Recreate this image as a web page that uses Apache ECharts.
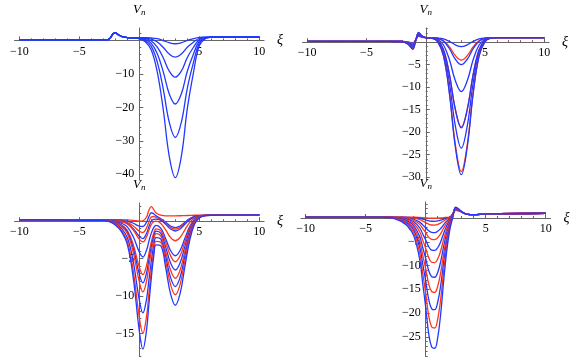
<!DOCTYPE html>
<html>
<head>
<meta charset="utf-8">
<script src="https://cdn.jsdelivr.net/npm/echarts@6/dist/echarts.min.js"></script>
<style>
html, body { margin: 0; padding: 0; background: #fff; }
#main { width: 581px; height: 357px; }
</style>
</head>
<body>
<div id="main"></div>
<script>
// panel A (top left)
var xiA = [-10, -3, -2.6, -2.4, -2.2, -2, -1.8, -1.5, -1, -0.5, 0, 0.5, 1, 1.5, 2, 2.5, 3, 3.5, 4, 4.5, 5, 5.5, 6, 6.5, 7, 10];
var colorsA = ['b', 'b', 'b', 'b', 'b', 'b'];
var vA = [
    [0.2, 0.2, 0.25, 0.8, 1.9, 2.3, 1.8, 1.2, 0.85, 0.80, 0.78, 0.79, 0.72, 0.50, -0.04, -0.70, -1.0, -0.70, -0.02, 0.48, 0.88, 0.98, 1.0, 1.0, 1.0, 1.0],
    [0.2, 0.2, 0.25, 0.8, 1.9, 2.3, 1.8, 1.2, 0.85, 0.79, 0.75, 0.67, 0.36, -0.50, -2.12, -4.10, -5.0, -4.10, -2.06, -0.56, 0.64, 0.93, 0.99, 1.0, 1.0, 1.0],
    [0.2, 0.2, 0.25, 0.8, 1.9, 2.3, 1.8, 1.2, 0.85, 0.78, 0.70, 0.49, -0.18, -2.0, -5.24, -9.2, -11.0, -9.2, -5.12, -2.12, 0.28, 0.86, 0.98, 1.0, 1.0, 1.0],
    [0.2, 0.2, 0.25, 0.8, 1.9, 2.3, 1.8, 1.2, 0.85, 0.76, 0.64, 0.25, -0.9, -4.0, -9.4, -16.0, -19.0, -16.0, -9.2, -4.2, -0.2, 0.76, 0.96, 1.0, 1.0, 1.0],
    [0.2, 0.2, 0.25, 0.8, 1.9, 2.3, 1.8, 1.2, 0.85, 0.74, 0.56, -0.05, -1.8, -6.5, -14.6, -24.5, -29.0, -24.5, -14.3, -6.8, -0.8, 0.64, 0.94, 1.0, 1.0, 1.0],
    [0.2, 0.2, 0.25, 0.8, 1.9, 2.3, 1.8, 1.2, 0.85, 0.72, 0.46, -0.41, -2.88, -9.5, -20.8, -34.7, -41.0, -34.7, -20.4, -9.9, -1.52, 0.5, 0.92, 1.0, 1.0, 1.0]
];
var yTicksA = [-40, -30, -20, -10];
var yMinorA = [-38, -36, -34, -32, -28, -26, -24, -22, -18, -16, -14, -12, -8, -6, -4, -2, 2];

// panel B (top right)
var xiB = [-10, -3, -2, -1.5, -1.1, -0.85, -0.6, -0.35, 0, 0.5, 1, 1.5, 2, 2.5, 3, 3.5, 4, 4.5, 5, 5.5, 6, 7, 10];
var colorsB = ['b', 'r', 'b', 'b', 'r', 'b', 'b', 'r', 'b'];
var vB = [
    [0.2, 0.2, 0.15, 0.06, -0.2, 0.55, 1.3, 1.12, 1.0, 0.99, 0.94, 0.73, 0.18, -0.6, -1.0, -0.6, 0.18, 0.73, 0.94, 0.99, 1.0, 1.0, 1.0],
    [0.2, 0.2, 0.15, -0.01, -0.41, 0.51, 1.44, 1.17, 1.0, 0.98, 0.86, 0.33, -1.05, -3.0, -4.0, -3.0, -1.05, 0.33, 0.86, 0.98, 1.0, 1.0, 1.0],
    [0.2, 0.2, 0.15, -0.09, -0.62, 0.48, 1.57, 1.23, 1.0, 0.98, 0.83, 0.19, -1.46, -3.8, -5.0, -3.8, -1.46, 0.19, 0.83, 0.98, 1.0, 1.0, 1.0],
    [0.2, 0.2, 0.15, -0.16, -0.83, 0.44, 1.71, 1.28, 1.0, 0.95, 0.66, -0.62, -3.92, -8.6, -11.0, -8.6, -3.92, -0.62, 0.66, 0.95, 1.0, 1.0, 1.0],
    [0.2, 0.2, 0.15, -0.23, -1.04, 0.4, 1.84, 1.34, 1.0, 0.92, 0.43, -1.69, -7.16, -14.92, -18.9, -14.92, -7.16, -1.69, 0.43, 0.92, 1.0, 1.0, 1.0],
    [0.2, 0.2, 0.15, -0.26, -1.11, 0.39, 1.89, 1.35, 1.0, 0.92, 0.43, -1.71, -7.24, -15.08, -19.1, -15.08, -7.24, -1.71, 0.43, 0.92, 1.0, 1.0, 1.0],
    [0.2, 0.2, 0.15, -0.33, -1.32, 0.35, 2.02, 1.41, 1.0, 0.90, 0.30, -2.32, -9.09, -18.68, -23.6, -18.68, -9.09, -2.32, 0.30, 0.90, 1.0, 1.0, 1.0],
    [0.2, 0.2, 0.15, -0.38, -1.46, 0.33, 2.11, 1.44, 1.0, 0.88, 0.15, -3.02, -11.22, -22.84, -28.8, -22.84, -11.22, -3.02, 0.15, 0.88, 1.0, 1.0, 1.0],
    [0.2, 0.2, 0.15, -0.43, -1.6, 0.3, 2.2, 1.48, 1.0, 0.88, 0.13, -3.12, -11.51, -23.4, -29.5, -23.4, -11.51, -3.12, 0.13, 0.88, 1.0, 1.0, 1.0]
];
var yTicksB = [-30, -25, -20, -15, -10, -5];
var yMinorB = [-29, -28, -27, -26, -24, -23, -22, -21, -19, -18, -17, -16, -14, -13, -12, -11, -9, -8, -7, -6, -4, -3, -2, -1, 1, 2, 3];

// panel C (bottom left)
var xiC = [-10, -3, -2.5, -2, -1.5, -1, -0.5, 0, 0.3, 0.6, 0.8, 1, 1.2, 1.4, 1.8, 2.2, 2.6, 3, 3.4, 3.8, 4.2, 4.6, 5, 5.5, 6, 10];
var colorsC = ['r', 'b', 'r', 'b', 'r', 'b', 'r', 'b', 'r', 'b', 'r', 'b'];
var vC = [
    [0.2, 0.2, 0.2, 0.2, 0.2, 0.18, 0.12, 0.02, 0.05, 0.55, 1.45, 1.95, 1.55, 1.1, 0.8, 0.72, 0.72, 0.72, 0.73, 0.75, 0.78, 0.8, 0.8, 0.8, 0.8, 0.85],
    [0.2, 0.19, 0.18, 0.16, 0.11, 0.0, -0.27, -0.65, -0.70, -0.13, 0.61, 1.13, 1.0, 0.71, 0.34, -0.14, -0.64, -0.85, -0.64, -0.14, 0.34, 0.64, 0.75, 0.79, 0.8, 0.85],
    [0.2, 0.19, 0.17, 0.13, 0.03, -0.15, -0.63, -1.34, -1.51, -0.88, -0.07, 0.56, 0.63, 0.50, 0.23, -0.26, -0.81, -1.05, -0.81, -0.26, 0.28, 0.62, 0.74, 0.79, 0.8, 0.85],
    [0.2, 0.19, 0.16, 0.10, -0.04, -0.30, -0.99, -2.02, -2.31, -1.63, -0.74, 0.0, 0.26, 0.29, 0.11, -0.42, -1.03, -1.3, -1.03, -0.40, 0.21, 0.59, 0.74, 0.79, 0.8, 0.85],
    [0.2, 0.18, 0.15, 0.08, -0.08, -0.38, -1.18, -2.39, -2.76, -2.09, -1.20, -0.44, -0.07, 0.02, -0.29, -1.16, -2.16, -2.6, -2.16, -1.14, -0.15, 0.46, 0.70, 0.79, 0.8, 0.85],
    [0.2, 0.17, 0.12, 0.0, -0.26, -0.76, -2.08, -4.11, -4.77, -3.88, -2.68, -1.59, -0.86, -0.55, -0.94, -2.33, -3.90, -4.6, -3.90, -2.28, -0.71, 0.26, 0.64, 0.78, 0.8, 0.85],
    [0.2, 0.16, 0.09, -0.10, -0.47, -1.21, -3.13, -6.12, -7.12, -5.94, -4.32, -2.77, -1.60, -1.01, -1.27, -2.81, -4.59, -5.4, -4.59, -2.73, -0.94, 0.18, 0.61, 0.78, 0.8, 0.85],
    [0.2, 0.16, 0.07, -0.14, -0.57, -1.42, -3.63, -7.06, -8.22, -6.92, -5.13, -3.40, -2.03, -1.32, -1.63, -3.45, -5.55, -6.5, -5.55, -3.36, -1.24, 0.07, 0.58, 0.77, 0.8, 0.85],
    [0.2, 0.15, 0.05, -0.19, -0.67, -1.64, -4.17, -8.09, -9.43, -7.99, -6.00, -4.07, -2.48, -1.65, -1.99, -4.09, -6.51, -7.6, -6.51, -3.99, -1.55, -0.04, 0.55, 0.77, 0.8, 0.85],
    [0.2, 0.14, 0.01, -0.30, -0.93, -2.18, -5.43, -10.5, -12.23, -10.41, -7.86, -5.36, -3.30, -2.18, -2.41, -4.74, -7.47, -8.7, -7.47, -4.62, -1.86, -0.15, 0.52, 0.76, 0.8, 0.85],
    [0.2, 0.12, -0.03, -0.41, -1.17, -2.69, -6.64, -12.82, -14.93, -12.73, -9.66, -6.61, -4.09, -2.69, -2.83, -5.39, -8.42, -9.8, -8.42, -5.24, -2.17, -0.26, 0.48, 0.76, 0.8, 0.85],
    [0.2, 0.11, -0.06, -0.49, -1.36, -3.09, -7.59, -14.63, -17.04, -14.55, -11.06, -7.60, -4.73, -3.15, -3.30, -6.21, -9.64, -11.2, -9.64, -6.04, -2.56, -0.40, 0.44, 0.75, 0.8, 0.85]
];
var yTicksC = [-15, -10, -5];
var yMinorC = [-18, -17, -16, -14, -13, -12, -11, -9, -8, -7, -6, -4, -3, -2, -1, 1, 2];

// panel D (bottom right)
var xiD = [-10, -4, -3, -2.5, -2, -1.5, -1, -0.5, -0.25, 0, 0.25, 0.5, 0.75, 1, 1.25, 1.5, 1.75, 2, 2.25, 2.5, 2.75, 3, 3.5, 4, 5, 10];
var colorsD = ['r', 'b', 'r', 'b', 'r', 'b', 'r', 'b', 'r', 'b', 'r', 'b'];
var vD = [
    [0.2, 0.2, 0.2, 0.2, 0.19, 0.18, 0.17, 0.12, 0.08, 0.03, -0.02, -0.05, -0.05, -0.03, 0.02, 0.08, 0.14, 0.18, 0.89, 1.6, 1.5, 1.3, 0.75, 0.7, 0.85, 1.0],
    [0.2, 0.2, 0.2, 0.19, 0.17, 0.14, 0.07, -0.09, -0.25, -0.41, -0.59, -0.68, -0.69, -0.62, -0.46, -0.23, -0.03, 0.11, 0.87, 1.67, 1.54, 1.3, 0.75, 0.7, 0.85, 1.0],
    [0.2, 0.2, 0.19, 0.17, 0.14, 0.08, -0.04, -0.34, -0.65, -0.96, -1.30, -1.47, -1.48, -1.35, -1.04, -0.62, -0.24, 0.03, 0.85, 1.73, 1.57, 1.3, 0.75, 0.7, 0.85, 1.0],
    [0.2, 0.2, 0.18, 0.15, 0.08, -0.03, -0.26, -0.86, -1.45, -2.04, -2.70, -3.03, -3.07, -2.80, -2.21, -1.38, -0.66, -0.13, 0.80, 1.80, 1.61, 1.3, 0.75, 0.7, 0.85, 1.0],
    [0.2, 0.2, 0.18, 0.13, 0.03, -0.14, -0.47, -1.34, -2.2, -3.06, -4.02, -4.50, -4.55, -4.17, -3.30, -2.10, -1.05, -0.28, 0.76, 1.87, 1.64, 1.3, 0.75, 0.7, 0.85, 1.0],
    [0.2, 0.2, 0.16, 0.09, -0.05, -0.30, -0.79, -2.07, -3.35, -4.63, -6.05, -6.76, -6.83, -6.26, -4.98, -3.21, -1.65, -0.51, 0.69, 1.92, 1.68, 1.3, 0.75, 0.7, 0.85, 1.0],
    [0.2, 0.2, 0.15, 0.05, -0.14, -0.48, -1.16, -2.90, -4.65, -6.40, -8.34, -9.31, -9.40, -8.63, -6.88, -4.46, -2.32, -0.77, 0.61, 1.99, 1.72, 1.3, 0.75, 0.7, 0.85, 1.0],
    [0.2, 0.2, 0.14, 0.01, -0.25, -0.70, -1.59, -3.90, -6.2, -8.50, -11.06, -12.34, -12.47, -11.45, -9.14, -5.94, -3.13, -1.08, 0.52, 2.05, 1.76, 1.3, 0.75, 0.7, 0.85, 1.0],
    [0.2, 0.2, 0.12, -0.04, -0.36, -0.92, -2.04, -4.92, -7.8, -10.68, -13.88, -15.48, -15.64, -14.36, -11.48, -7.48, -3.96, -1.40, 0.42, 2.10, 1.79, 1.3, 0.75, 0.7, 0.85, 1.0],
    [0.2, 0.2, 0.10, -0.10, -0.49, -1.18, -2.56, -6.10, -9.65, -13.20, -17.14, -19.11, -19.30, -17.73, -14.18, -9.26, -4.92, -1.77, 0.31, 2.16, 1.83, 1.3, 0.75, 0.7, 0.85, 1.0],
    [0.2, 0.2, 0.08, -0.15, -0.63, -1.45, -3.10, -7.35, -11.6, -15.85, -20.57, -22.93, -23.16, -21.28, -17.03, -11.13, -5.94, -2.16, 0.19, 2.21, 1.86, 1.3, 0.75, 0.7, 0.85, 1.0],
    [0.2, 0.2, 0.06, -0.22, -0.78, -1.75, -3.71, -8.73, -13.75, -18.77, -24.35, -27.14, -27.42, -25.19, -20.17, -13.19, -7.05, -2.59, 0.06, 2.26, 1.9, 1.3, 0.75, 0.7, 0.85, 1.0]
];
var yTicksD = [-25, -20, -15, -10, -5];
var yMinorD = [-29, -28, -27, -26, -24, -23, -22, -21, -19, -18, -17, -16, -14, -13, -12, -11, -9, -8, -7, -6, -4, -3, -2, -1, 1, 2, 3];

var xTicks = [-10, -5, 5, 10];
var xMinor = [-9, -8, -7, -6, -4, -3, -2, -1, 1, 2, 3, 4, 6, 7, 8, 9];

var BLUE = '#2238ff';
var RED = '#ff3418';
var AXIS = '#666';
var SERIF = 'Liberation Serif';
var XMIN = -10.4, XMAX = 10.4;

var chart = echarts.init(document.getElementById('main'));

var grids = [], xAxes = [], yAxes = [], series = [];

function fmt(v) {
    return v < 0 ? '\u2212' + (-v) : String(v);
}

function addPanel(box, yMin, yMax, yTicks, yMinor, xs, curves, colors) {
    grids.push({left: box[0], top: box[1], width: box[2], height: box[3]});
    var gi = grids.length - 1;
    // axes cross at the origin: shift them from the grid edge with a negative offset
    var xOff = -box[3] * (0 - yMin) / (yMax - yMin);
    var yOff = -box[2] * (0 - XMIN) / (XMAX - XMIN);
    var lineStyle = {color: AXIS, width: 1};
    xAxes.push({
        gridIndex: gi, type: 'value', position: 'bottom', offset: xOff, min: XMIN, max: XMAX,
        name: 'ξ', nameLocation: 'end', nameGap: 13,
        nameTextStyle: {fontFamily: SERIF, fontStyle: 'italic', fontSize: 14, color: '#000'},
        axisLine: {onZero: false, lineStyle: lineStyle},
        axisTick: {inside: true, length: 4, customValues: xTicks, lineStyle: {color: AXIS}},
        axisLabel: {customValues: xTicks, formatter: fmt, margin: 5, fontFamily: SERIF, fontSize: 12, color: '#000'},
        splitLine: {show: false}
    });
    xAxes.push({
        gridIndex: gi, type: 'value', position: 'bottom', offset: xOff, min: XMIN, max: XMAX,
        axisLine: {onZero: false, show: false},
        axisTick: {inside: true, length: 2, customValues: xMinor, lineStyle: {color: AXIS}},
        axisLabel: {show: false},
        splitLine: {show: false}
    });
    yAxes.push({
        gridIndex: gi, type: 'value', position: 'left', offset: yOff, min: yMin, max: yMax,
        name: '{v|V}{n|n}', nameLocation: 'end', nameGap: 11,
        nameTextStyle: {
            rich: {
                v: {fontFamily: SERIF, fontStyle: 'italic', fontSize: 13, color: '#000'},
                n: {fontFamily: SERIF, fontStyle: 'italic', fontSize: 9, color: '#000', padding: [6, 0, 0, 0]}
            }
        },
        axisLine: {onZero: false, lineStyle: lineStyle},
        axisTick: {inside: true, length: 4, customValues: yTicks, lineStyle: {color: AXIS}},
        axisLabel: {customValues: yTicks, formatter: fmt, margin: 5, fontFamily: SERIF, fontSize: 12, color: '#000'},
        splitLine: {show: false}
    });
    yAxes.push({
        gridIndex: gi, type: 'value', position: 'left', offset: yOff, min: yMin, max: yMax,
        axisLine: {onZero: false, show: false},
        axisTick: {inside: true, length: 2, customValues: yMinor, lineStyle: {color: AXIS}},
        axisLabel: {show: false},
        splitLine: {show: false}
    });
    var ai = xAxes.length - 2;
    curves.forEach(function (ys, k) {
        series.push({
            type: 'line',
            xAxisIndex: ai,
            yAxisIndex: ai,
            data: xs.map(function (x, i) { return [x, ys[i]]; }),
            smooth: 0.4,
            showSymbol: false,
            silent: true,
            lineStyle: {width: 1.3, color: colors[k] === 'r' ? RED : BLUE}
        });
    });
}

addPanel([14.5, 28, 249.6, 152], -41.7, 3.7, yTicksA, yMinorA, xiA, vA, colorsA);
addPanel([302.5, 28, 246.5, 152], -30.69, 3.16, yTicksB, yMinorB, xiB, vB, colorsB);
addPanel([14.5, 203, 249.6, 154], -18.1, 2.43, yTicksC, yMinorC, xiC, vC, colorsC);
addPanel([300.9, 202, 249.6, 155], -29.26, 3.37, yTicksD, yMinorD, xiD, vD, colorsD);

chart.setOption({
    animation: false,
    grid: grids,
    xAxis: xAxes,
    yAxis: yAxes,
    series: series
});
</script>
</body>
</html>
